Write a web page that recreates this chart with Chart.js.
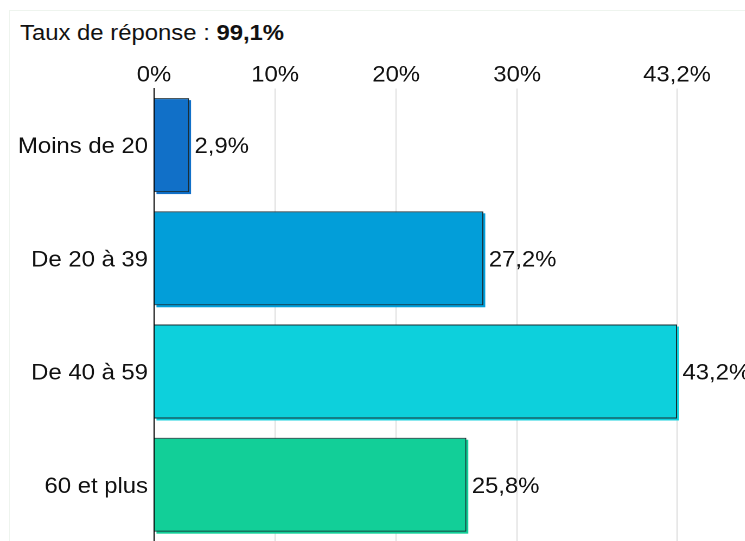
<!DOCTYPE html>
<html lang="fr">
<head>
<meta charset="utf-8">
<title>Taux de réponse</title>
<script src="https://cdn.jsdelivr.net/npm/chart.js@4/dist/chart.umd.min.js"></script>
<style>
  html, body { margin: 0; padding: 0; background: #fff; overflow: hidden; width: 745px; height: 541px; }
  #cadre { position: absolute; left: 9px; top: 10px; width: 800px; height: 600px; border: 1px solid #eef4ee; }
  #titre { position: absolute; left: 20px; top: 20px; font: 22px "Liberation Sans", Arial, sans-serif; color: #111;
           transform: scaleX(1.085); transform-origin: 0 0; white-space: nowrap; }
  /* le graphique d'origine est légèrement étiré horizontalement */
  #zone { position: absolute; left: 0; top: 0; width: 737px; height: 560px; transform: scaleX(1.085); transform-origin: 0 0; }
</style>
</head>
<body>
<div id="cadre"></div>
<div id="titre">Taux de réponse : <b>99,1%</b></div>
<div id="zone"><canvas id="graphique"></canvas></div>
<script>
"use strict";
/* Données */
const categories = ["Moins de 20", "De 20 à 39", "De 40 à 59", "60 et plus"];
const valeurs = [2.9, 27.2, 43.2, 25.8];
const couleurs = ["#1170c8", "#029ed9", "#0dd0dc", "#12cf98"];
const graduations = [0, 10, 20, 30, 43.2];

const formatPct = v => String(v).replace(".", ",") + "%";
const police = { family: '"Liberation Sans", Arial, sans-serif', size: 22 };

/* Ombre décalée derrière chaque barre */
const ombreBarres = {
    id: "ombreBarres",
    beforeDatasetsDraw(chart) {
        const ctx = chart.ctx;
        chart.getDatasetMeta(0).data.forEach((barre, i) => {
            const p = barre.getProps(["x", "y", "base", "height"], true);
            ctx.save();
            ctx.fillStyle = couleurs[i];
            ctx.fillRect(p.base + 1.8, p.y - p.height / 2 + 2, p.x - p.base, p.height);
            ctx.restore();
        });
    }
};

/* Étiquettes de valeur à droite des barres */
const etiquettes = {
    id: "etiquettes",
    afterDatasetsDraw(chart) {
        const ctx = chart.ctx;
        ctx.save();
        ctx.font = '22px "Liberation Sans", Arial, sans-serif';
        ctx.fillStyle = "#111";
        ctx.textAlign = "left";
        ctx.textBaseline = "middle";
        chart.getDatasetMeta(0).data.forEach((barre, i) => {
            ctx.fillText(formatPct(valeurs[i]), barre.x + 5, barre.y + 2);
        });
        ctx.restore();
    }
};

new Chart(document.getElementById("graphique"), {
    type: "bar",
    data: {
        labels: categories,
        datasets: [{
            data: valeurs,
            backgroundColor: couleurs,
            borderColor: "#1b2b30",
            borderWidth: 1,
            borderSkipped: "start",
            barPercentage: 0.83,
            categoryPercentage: 1
        }]
    },
    options: {
        indexAxis: "y",
        responsive: true,
        maintainAspectRatio: false,
        animation: false,
        devicePixelRatio: 2,
        layout: { padding: { left: 0, top: 0, right: 113, bottom: 17 } },
        plugins: {
            legend: { display: false },
            tooltip: { enabled: false }
        },
        scales: {
            x: {
                position: "top",
                min: 0,
                max: 43.2,
                afterBuildTicks(axis) {
                    axis.ticks = graduations.map(v => ({ value: v }));
                },
                afterFit(axis) { axis.height = 88.5; },
                ticks: {
                    callback: v => formatPct(v),
                    color: "#111",
                    font: police,
                    padding: 0,
                    maxRotation: 0,
                    autoSkip: false
                },
                grid: {
                    drawTicks: false,
                    color: ctx => ctx.tick && ctx.tick.value === 0 ? "rgba(0,0,0,0)" : "#dddddd",
                    lineWidth: 1
                },
                border: { display: false }
            },
            y: {
                afterFit(axis) { axis.width = 141.9; },
                ticks: {
                    color: "#111",
                    font: police,
                    padding: 5.5,
                    labelOffset: 2
                },
                grid: { display: false, drawTicks: false },
                border: { display: true, color: "#000", width: 1 }
            }
        }
    },
    plugins: [ombreBarres, etiquettes]
});
</script>
</body>
</html>
